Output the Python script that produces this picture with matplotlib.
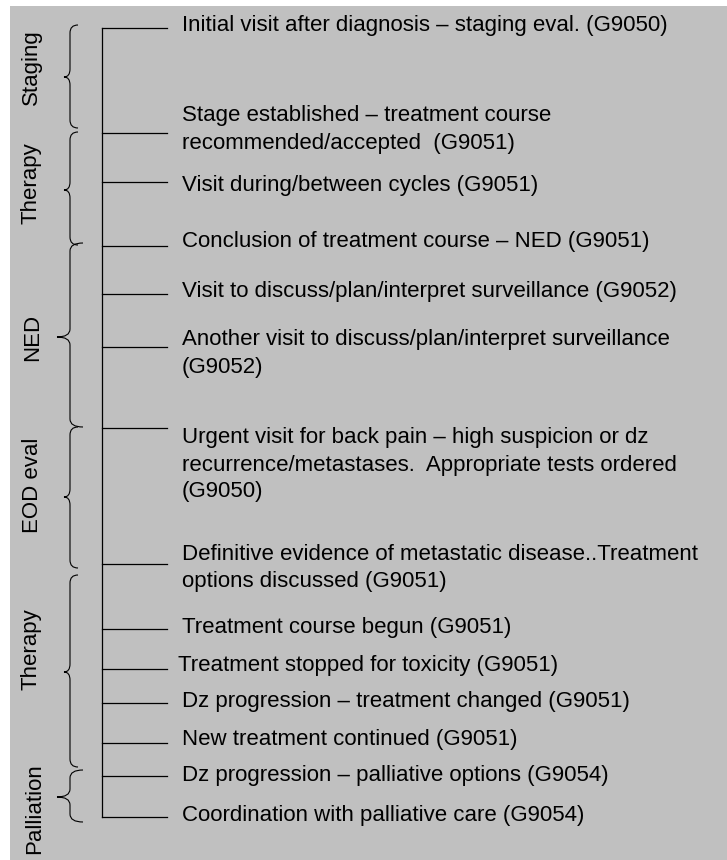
import matplotlib.pyplot as plt
from matplotlib.path import Path
import matplotlib.patches as mpatches

plt.rcParams["font.family"] = ["Liberation Sans", "DejaVu Sans"]

# timeline events (y = pixel row of the tick on the spine)
event_y = [28, 133, 182, 246, 294, 347, 428, 564, 629, 669, 703, 743, 776, 817]
event_text = [
    "Initial visit after diagnosis \u2013 staging eval. (G9050)",
    "Stage established \u2013 treatment course\nrecommended/accepted  (G9051)",
    "Visit during/between cycles (G9051)",
    "Conclusion of treatment course \u2013 NED (G9051)",
    "Visit to discuss/plan/interpret surveillance (G9052)",
    "Another visit to discuss/plan/interpret surveillance\n(G9052)",
    "Urgent visit for back pain \u2013 high suspicion or dz\n"
    "recurrence/metastases.  Appropriate tests ordered\n(G9050)",
    "Definitive evidence of metastatic disease..Treatment\noptions discussed (G9051)",
    "Treatment course begun (G9051)",
    "Treatment stopped for toxicity (G9051)",
    "Dz progression \u2013 treatment changed (G9051)",
    "New treatment continued (G9051)",
    "Dz progression \u2013 palliative options (G9054)",
    "Coordination with palliative care (G9054)",
]
# centre of first text line for each event
text_y = [25, 116, 185, 242, 291, 340, 438, 554, 628, 665, 702, 740, 775, 816]
text_x = [182, 182, 182, 182, 182, 182, 182, 182, 182, 178, 182, 182, 182, 182]

# phases: name, brace top, brace bottom, brace tip
phase_names = ["Staging", "Therapy", "NED", "EOD eval", "Therapy", "Palliation"]
phase_top = [25, 132, 243, 427, 575, 770]
phase_bottom = [128, 245, 427, 568, 767, 822]
phase_tip = [77, 190, 337, 497, 672, 797]
phase_label_y = [67, 183, 337, 485, 649, 809]
phase_label_x = [31, 31, 33, 32, 31, 35]

BG = "#c0c0c0"
SPINE_X = 102
TICK_END = 167
LINE_PITCH = 27
FS = 16


def brace(ax, y0, y1, ym, xe, xv, xt, r=8):
    verts = [
        (xe, y0), (xv, y0), (xv, y0 + r),
        (xv, ym - r),
        (xv, ym), (xt, ym),
        (xv, ym), (xv, ym + r),
        (xv, y1 - r),
        (xv, y1), (xe, y1),
    ]
    codes = [Path.MOVETO, Path.CURVE3, Path.CURVE3, Path.LINETO,
             Path.CURVE3, Path.CURVE3, Path.CURVE3, Path.CURVE3,
             Path.LINETO, Path.CURVE3, Path.CURVE3]
    ax.add_patch(mpatches.PathPatch(Path(verts, codes), fc="none",
                                    ec="black", lw=0.8))


fig = plt.figure(figsize=(7.27, 8.6), dpi=100)
ax = fig.add_axes([0, 0, 1, 1])
ax.set_xlim(0, 727)
ax.set_ylim(860, 0)
ax.axis("off")

ax.add_patch(mpatches.Rectangle((10, 6), 717, 854, fc=BG, ec="none"))

# spine and ticks
ax.plot([SPINE_X, SPINE_X], [event_y[0], event_y[-1]], color="black", lw=0.9)
for y in event_y:
    ax.plot([SPINE_X, TICK_END], [y, y], color="black", lw=0.9)

for txt, x, y in zip(event_text, text_x, text_y):
    for i, line in enumerate(txt.split("\n")):
        ax.text(x, y + i * LINE_PITCH, line, fontsize=FS,
                ha="left", va="center")

for i, name in enumerate(phase_names):
    # the NED and Palliation braces poke out further to the left
    xt = 57 if name in ("NED", "Palliation") else 64
    xe = 83 if xt == 57 else 78
    brace(ax, phase_top[i], phase_bottom[i], phase_tip[i], xe, 70, xt)
    ax.text(phase_label_x[i], phase_label_y[i], name, fontsize=FS, rotation=90,
            ha="center", va="center")

fig.savefig("out.png", dpi=100)
